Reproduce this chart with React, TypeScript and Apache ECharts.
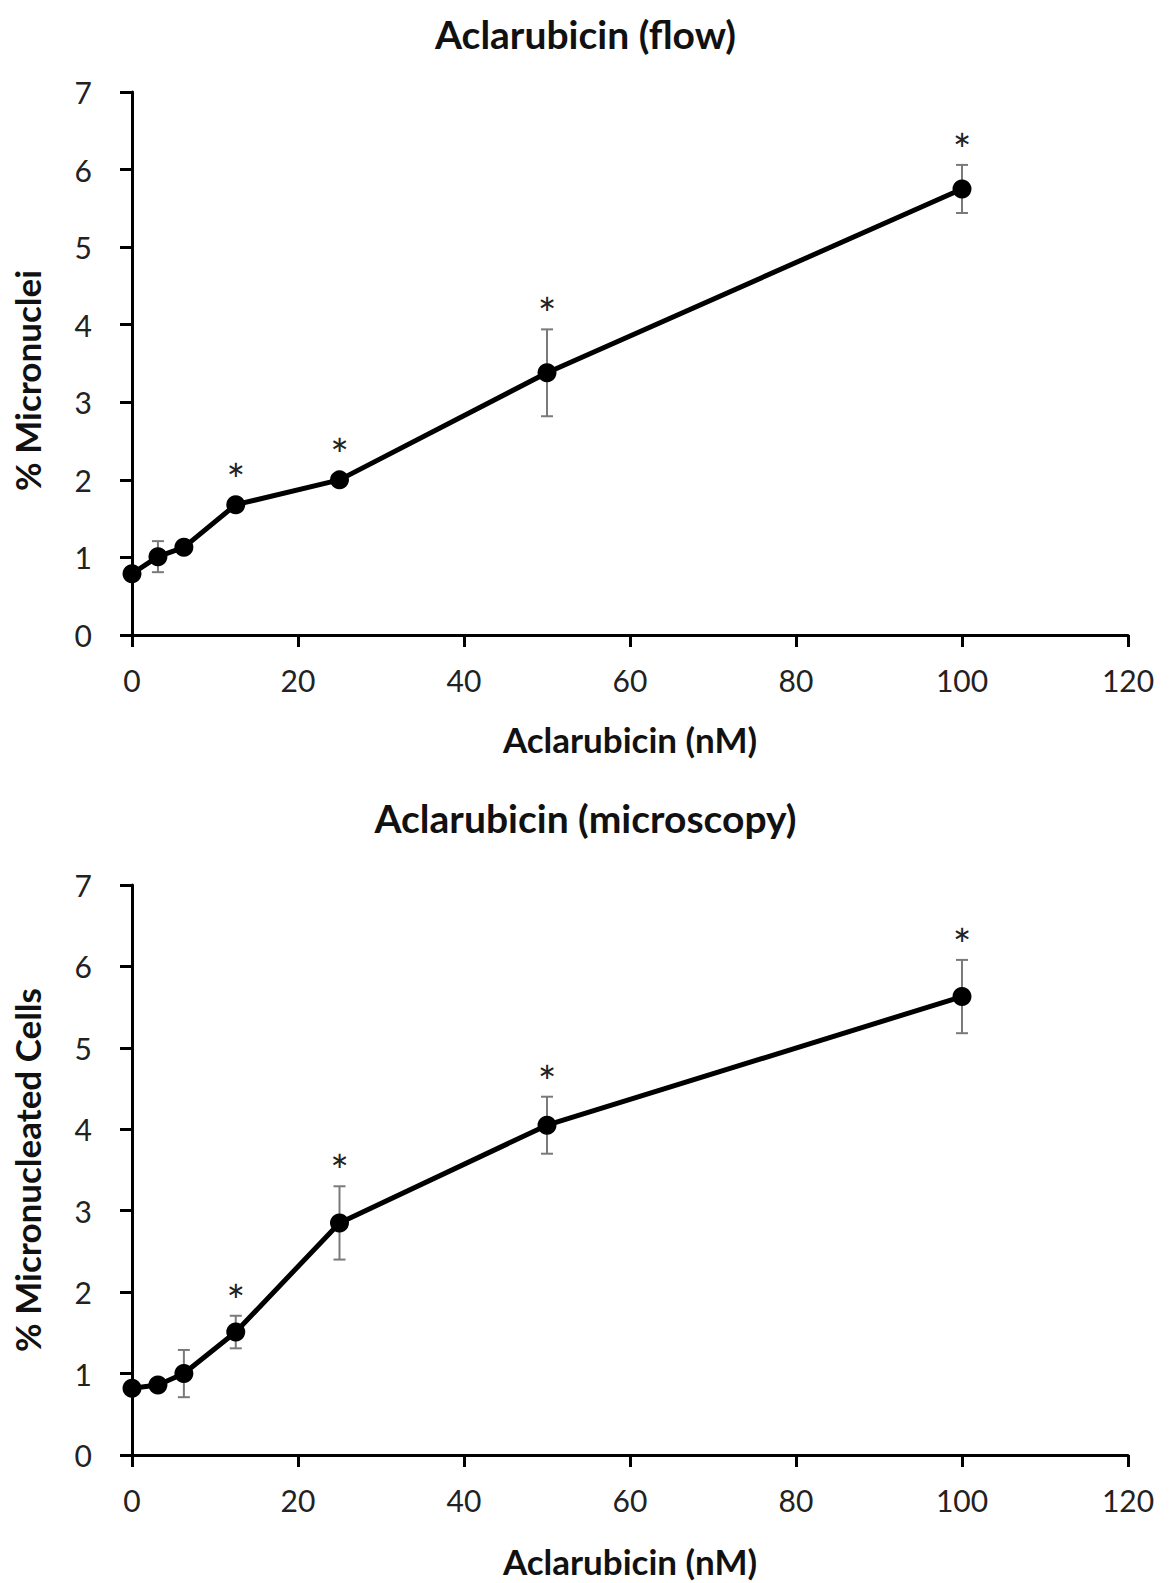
import React, { useEffect, useRef } from "react";
import * as echarts from "echarts";

const doses = [0, 3.125, 6.25, 12.5, 25, 50, 100];
const flowMean = [0.79, 1.01, 1.13, 1.68, 2.0, 3.38, 5.75];
const flowErr = [0.05, 0.2, 0.05, 0.05, 0.05, 0.56, 0.31];
const flowSig = [0, 0, 0, 1, 1, 1, 1];
const microMean = [0.82, 0.86, 1.0, 1.51, 2.85, 4.05, 5.63];
const microErr = [0.05, 0.05, 0.29, 0.2, 0.45, 0.35, 0.45];
const microSig = [0, 0, 0, 1, 1, 1, 1];

const titles = ["Aclarubicin (flow)", "Aclarubicin (microscopy)"];
const xName = "Aclarubicin (nM)";
const yNames = ["% Micronuclei", "% Micronucleated Cells"];

const FONT = "Lato";

export default function App() {
  const ref = useRef<HTMLDivElement>(null);
  useEffect(() => {
    document.body.style.margin = "0";
    const chart = echarts.init(ref.current!, null, { renderer: "svg" });

    const lineData = (m: number[]) => doses.map((d, i) => [d, m[i]]);
    const errData = (m: number[], e: number[], s: number[]) =>
      doses.map((d, i) => [d, m[i] - e[i], m[i] + e[i], m[i], s[i]]);

    const renderErr = (params: any, api: any) => {
      const x = api.value(0);
      const lo = api.value(1);
      const hi = api.value(2);
      const y = api.value(3);
      const sig = api.value(4);
      const pLo = api.coord([x, lo]);
      const pHi = api.coord([x, hi]);
      const pY = api.coord([x, y]);
      const cap = 6;
      const st = { stroke: "#7a7a7a", lineWidth: 2 };
      const children: any[] = [
        { type: "line", shape: { x1: pLo[0], y1: pLo[1], x2: pHi[0], y2: pHi[1] }, style: st },
        { type: "line", shape: { x1: pLo[0] - cap, y1: pLo[1], x2: pLo[0] + cap, y2: pLo[1] }, style: st },
        { type: "line", shape: { x1: pHi[0] - cap, y1: pHi[1], x2: pHi[0] + cap, y2: pHi[1] }, style: st },
      ];
      if (sig) {
        const sy = Math.min(pHi[1] - 16, pY[1] - 26);
        children.push({
          type: "text",
          x: pY[0],
          y: sy,
          style: {
            text: "*",
            fontSize: 44,
            fontFamily: FONT,
            fill: "#222",
            align: "center",
            verticalAlign: "middle",
          },
        });
      }
      return { type: "group", children };
    };

    const axisCommon = {
      axisLine: { show: true, lineStyle: { color: "#000", width: 3 } },
      axisTick: { show: true, length: 12, lineStyle: { color: "#000", width: 3 } },
      splitLine: { show: false },
    };
    const labelStyle = { color: "#222", fontSize: 30, fontFamily: FONT };
    const nameStyle = { color: "#111", fontSize: 35, fontWeight: "bold" as const, fontFamily: FONT };

    const xAxis = (gi: number) => ({
      type: "value",
      gridIndex: gi,
      min: 0,
      max: 120,
      interval: 20,
      ...axisCommon,
      axisLabel: { ...labelStyle, margin: 30 },
      name: xName,
      nameLocation: "middle",
      nameGap: gi === 0 ? 86 : 88,
      nameTextStyle: nameStyle,
    });
    const yAxis = (gi: number) => ({
      type: "value",
      gridIndex: gi,
      min: 0,
      max: 7,
      interval: 1,
      ...axisCommon,
      axisLabel: { ...labelStyle, margin: 40 },
      name: yNames[gi],
      nameLocation: "middle",
      nameGap: 88,
      nameRotate: 90,
      nameTextStyle: gi === 0 ? { ...nameStyle, padding: [0, 34, 0, 0] } : nameStyle,
    });

    const lineSeries = (gi: number, m: number[]) => ({
      type: "line",
      xAxisIndex: gi,
      yAxisIndex: gi,
      data: lineData(m),
      symbol: "circle",
      symbolSize: 19,
      itemStyle: { color: "#000" },
      lineStyle: { color: "#000", width: 5 },
      z: 3,
    });
    const errSeries = (gi: number, m: number[], e: number[], s: number[]) => ({
      type: "custom",
      xAxisIndex: gi,
      yAxisIndex: gi,
      data: errData(m, e, s),
      renderItem: renderErr,
      z: 2,
    });

    chart.setOption({
      animation: false,
      title: [
        {
          text: titles[0],
          left: "center",
          top: 9,
          textStyle: { ...nameStyle, fontSize: 39 },
        },
        {
          text: titles[1],
          left: "center",
          top: 793,
          textStyle: { ...nameStyle, fontSize: 39 },
        },
      ],
      grid: [
        { left: 132, right: 43, top: 92, height: 543 },
        { left: 132, right: 43, top: 885, height: 570 },
      ],
      xAxis: [xAxis(0), xAxis(1)],
      yAxis: [yAxis(0), yAxis(1)],
      series: [
        errSeries(0, flowMean, flowErr, flowSig),
        lineSeries(0, flowMean),
        errSeries(1, microMean, microErr, microSig),
        lineSeries(1, microMean),
      ],
    });
    return () => chart.dispose();
  }, []);
  return <div ref={ref} style={{ width: 1171, height: 1583 }} />;
}
